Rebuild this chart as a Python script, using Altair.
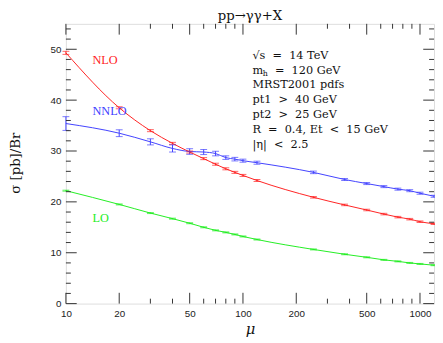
import altair as alt
import pandas as pd

# ---- data ----
mu = [10, 20, 30, 40, 50, 60, 70, 80, 90, 100, 120, 250, 375, 500, 625, 750, 875, 1000, 1200]
nlo = [49.3, 38.5, 34.0, 31.5, 29.8, 28.5, 27.4, 26.5, 25.8, 25.2, 24.2, 20.9, 19.4, 18.4, 17.6, 17.0, 16.6, 16.1, 15.7]
nlo_err = [0.3, 0.2, 0.2, 0.2, 0.2, 0.2, 0.2, 0.2, 0.2, 0.2, 0.2, 0.15, 0.15, 0.15, 0.15, 0.15, 0.15, 0.15, 0.15]
nnlo = [35.4, 33.5, 31.8, 30.5, 29.9, 29.8, 29.5, 28.7, 28.4, 28.1, 27.7, 25.8, 24.4, 23.6, 23.0, 22.5, 22.2, 21.7, 21.1]
nnlo_err = [1.35, 0.67, 0.6, 0.7, 0.55, 0.5, 0.45, 0.35, 0.35, 0.3, 0.3, 0.25, 0.2, 0.2, 0.2, 0.2, 0.2, 0.2, 0.2]
lo = [22.2, 19.5, 17.8, 16.7, 15.8, 15.0, 14.4, 14.0, 13.6, 13.2, 12.6, 10.65, 9.7, 9.1, 8.6, 8.3, 8.0, 7.8, 7.55]
lo_err = [0.1, 0.1, 0.1, 0.1, 0.1, 0.1, 0.1, 0.1, 0.1, 0.1, 0.1, 0.1, 0.1, 0.1, 0.1, 0.1, 0.1, 0.1, 0.1]

series_names = ["NLO", "NNLO", "LO"]
x_major = [10, 20, 50, 100, 200, 500, 1000]
x_minor = [30, 40, 60, 70, 80, 90, 300, 400, 600, 700, 800, 900]
y_major = [0, 10, 20, 30, 40, 50]
y_minor = [2, 4, 6, 8, 12, 14, 16, 18, 22, 24, 26, 28, 32, 34, 36, 38, 42, 44, 46, 48, 52, 54]

S = "\u00a0"  # non-collapsing space
W2 = S + S
title_text = "pp\u2192\u03b3\u03b3+X"
ytitle_text = "\u03c3 [pb]/Br"
xtitle_text = "\u03bc"
info_lines = [
    "\u221as" + W2 + "=" + W2 + "14" + S + "TeV",
    None,  # m_h line drawn separately
    "MRST2001" + S + "pdfs",
    "pt1" + W2 + ">" + W2 + "40" + S + "GeV",
    "pt2" + W2 + ">" + W2 + "25" + S + "GeV",
    "R" + W2 + "=" + W2 + "0.4," + S + "Et" + W2 + "<" + W2 + "15" + S + "GeV",
    "|\u03b7|" + W2 + "<" + W2 + "2.5",
]
mh_rest = "=" + W2 + "120" + S + "GeV"

RED, BLUE, GREEN = "#ff2222", "#4040ff", "#22ee22"
W, H = 375, 285

rows = []
for name, vals, errs in [("NLO", nlo, nlo_err), ("NNLO", nnlo, nnlo_err), ("LO", lo, lo_err)]:
    for m, v, e in zip(mu, vals, errs):
        rows.append({"series": name, "mu": m, "sigma": v, "lo": v - e, "hi": v + e})
df = pd.DataFrame(rows)

xs = alt.Scale(type="log", domain=[10, 1200], nice=False)
ys = alt.Scale(domain=[0, 55], nice=False, zero=False)
cs = alt.Scale(domain=series_names, range=[RED, BLUE, GREEN])

xaxis = alt.Axis(values=x_major, format="d", ticks=False, domain=False, grid=False,
                 labelFont="Liberation Sans", labelFontSize=10, labelColor="#222",
                 labelPadding=5, title=None, labelFlush=False)
yaxis = alt.Axis(values=y_major, format="d", ticks=False, domain=False, grid=False,
                 labelFont="Liberation Sans", labelFontSize=10, labelColor="#222",
                 labelPadding=5, title=None)

def X(field):
    return alt.X(field, scale=xs, axis=xaxis, title=None)

def Y(field):
    return alt.Y(field, scale=ys, axis=yaxis, title=None)

color = alt.Color("series:N", scale=cs, legend=None)

base = alt.Chart(df)
lines = base.mark_line(strokeWidth=1, interpolate="monotone").encode(
    x=X("mu:Q"), y=Y("sigma:Q"), color=color, detail="series:N")
bars = base.mark_rule(strokeWidth=1).encode(
    x=X("mu:Q"), y=Y("lo:Q"), y2="hi:Q", color=color)
cap_lo = base.mark_tick(orient="horizontal", size=7, thickness=1).encode(
    x=X("mu:Q"), y=Y("lo:Q"), color=color)
cap_hi = base.mark_tick(orient="horizontal", size=7, thickness=1).encode(
    x=X("mu:Q"), y=Y("hi:Q"), color=color)

TICK = "#333"
def xticks(vals, length):
    d = pd.DataFrame({"mu": vals})
    bottom = alt.Chart(d).mark_rule(color=TICK, strokeWidth=1).encode(
        x=X("mu:Q"), y=alt.value(H), y2=alt.value(H - length))
    top = alt.Chart(d).mark_rule(color=TICK, strokeWidth=1).encode(
        x=X("mu:Q"), y=alt.value(0), y2=alt.value(length))
    return [bottom, top]

def yticks(vals, length):
    d = pd.DataFrame({"sigma": vals})
    left = alt.Chart(d).mark_rule(color=TICK, strokeWidth=1).encode(
        y=Y("sigma:Q"), x=alt.value(0), x2=alt.value(length))
    right = alt.Chart(d).mark_rule(color=TICK, strokeWidth=1).encode(
        y=Y("sigma:Q"), x=alt.value(W), x2=alt.value(W - length))
    return [left, right]

tick_layers = xticks(x_major, 11) + xticks(x_minor, 5) + yticks(y_major, 11) + yticks(y_minor, 5)

def label(text, x, y, color="#111", font="DejaVu Serif", size=11.5, angle=0, align="left",
          baseline="alphabetic", style="normal"):
    d = pd.DataFrame({"t": [text]})
    return alt.Chart(d).mark_text(font=font, fontSize=size, color=color, angle=angle,
                                  align=align, baseline=baseline, fontStyle=style).encode(
        text="t:N", x=alt.value(x), y=alt.value(y))

texts = []
texts.append(label(title_text, W / 2, -4, size=13.5, align="center"))
texts.append(label(ytitle_text, -51, 142, size=13.5, angle=270, align="center", baseline="middle"))
texts.append(label(xtitle_text, 188, 316, size=15, align="center", style="italic"))
texts.append(label("NLO", 27, 41, color=RED, font="Liberation Serif", size=12.5))
texts.append(label("NNLO", 27, 93, color=BLUE, font="Liberation Serif", size=12.5))
texts.append(label("LO", 27, 202, color=GREEN, font="Liberation Serif", size=12.5))

x0, y0, dy = 190, 35.5, 15.1
for i, line in enumerate(info_lines):
    if line is not None:
        texts.append(label(line, x0, y0 + i * dy))
texts.append(label("m", x0, y0 + dy))
texts.append(label("h", x0 + 10.5, y0 + dy + 2.5, size=8))
texts.append(label(mh_rest, x0 + 23, y0 + dy))

chart = alt.layer(lines, bars, cap_lo, cap_hi, *tick_layers, *texts).properties(
    width=W, height=H,
    padding={"left": 59, "top": 13, "right": 1, "bottom": 37},
    autosize=alt.AutoSizeParams(type="none"),
).configure_view(stroke="#222", strokeWidth=1).configure(background="white")

chart.save("out.html", embed_options={"renderer": "svg", "actions": False})
